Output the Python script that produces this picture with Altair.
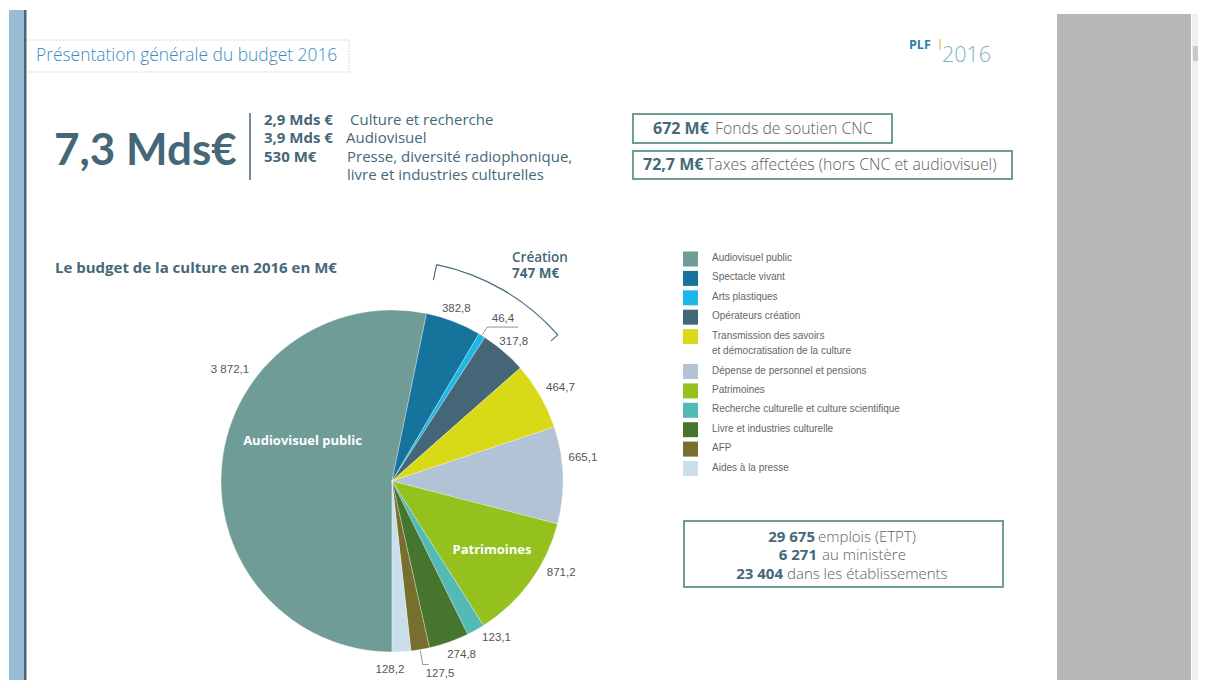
import math
import altair as alt
import pandas as pd

# ---------------- data ----------------
categories = [
    "Audiovisuel public",
    "Spectacle vivant",
    "Arts plastiques",
    "Opérateurs création",
    "Transmission des savoirs et démocratisation de la culture",
    "Dépense de personnel et pensions",
    "Patrimoines",
    "Recherche culturelle et culture scientifique",
    "Livre et industries culturelle",
    "AFP",
    "Aides à la presse",
]
values = [3872.1, 382.8, 46.4, 317.8, 464.7, 665.1, 871.2, 123.1, 274.8, 127.5, 128.2]
colors = ["#6f9c97", "#16739c", "#1db6ea", "#456677", "#d9da17", "#b1c3d5",
          "#95c11f", "#54bab6", "#46752e", "#776f2e", "#c9dfec"]
legend_labels = [
    "Audiovisuel public",
    "Spectacle vivant",
    "Arts plastiques",
    "Opérateurs création",
    "Transmission des savoirs\net démocratisation de la culture",
    "Dépense de personnel et pensions",
    "Patrimoines",
    "Recherche culturelle et culture scientifique",
    "Livre et industries culturelle",
    "AFP",
    "Aides à la presse",
]
creation_group = ["Spectacle vivant", "Arts plastiques", "Opérateurs création"]


def fr(v):
    return f"{v:,.1f}".replace(",", " ").replace(".", ",")


n = len(categories)
total = sum(values)
df = pd.DataFrame({"cat": categories, "val": values, "idx": list(range(n)),
                   "lab": [fr(v) for v in values]})

# ---------------- style ----------------
OFF = 8  # page margin
SANS = "'Open Sans', Lato, sans-serif"
BIG = "Lato, 'Open Sans', sans-serif"
NARROW = "'Liberation Sans', Arial, sans-serif"
DARK = "#456878"
GREY = "#555555"
LIGHT = "#5e5e5e"
CX, CY, R = 392 - OFF, 481 - OFF, 171

one = pd.DataFrame({"a": [0]})


def px(v):
    return v - OFF


def txt(s, x, y, size, color=DARK, weight="normal", font=SANS, align="left",
        baseline="middle"):
    return alt.Chart(one).mark_text(
        text=s, fontSize=size, color=color, fontWeight=weight, font=font,
        align=align, baseline=baseline
    ).encode(x=alt.value(px(x)), y=alt.value(px(y)))


def box(x1, y1, x2, y2, fill="transparent", stroke="transparent", sw=1.0, dash=None):
    kw = dict(fill=fill, stroke=stroke, strokeWidth=sw)
    if dash:
        kw["strokeDash"] = dash
    return alt.Chart(one).mark_rect(**kw).encode(
        x=alt.value(px(x1)), x2=alt.value(px(x2)),
        y=alt.value(px(y1)), y2=alt.value(px(y2)))


def rule(x1, y1, x2, y2, color="#777777", sw=0.8, shift=True):
    o = OFF if shift else 0
    return alt.Chart(one).mark_rule(color=color, strokeWidth=sw).encode(
        x=alt.value(x1 - o), x2=alt.value(x2 - o),
        y=alt.value(y1 - o), y2=alt.value(y2 - o))


# ---------------- pie ----------------
theta_enc = alt.Theta("val:Q", stack=True,
                      scale=alt.Scale(range=[math.pi, 3 * math.pi]))
color_enc = alt.Color("cat:N", scale=alt.Scale(domain=categories, range=colors),
                      legend=None)
order_enc = alt.Order("idx:Q")

pie = alt.Chart(df).mark_arc(radius=R, stroke="white", strokeWidth=0.3).encode(
    theta=theta_enc, color=color_enc, order=order_enc,
    x=alt.value(CX), y=alt.value(CY))


def slice_label(cat, r, dx=0, dy=0, text=None, size=11.5, color=GREY, font=NARROW,
                weight="normal"):
    enc = dict(theta=theta_enc, order=order_enc, x=alt.value(CX), y=alt.value(CY),
               opacity=alt.condition(f"datum.cat === '{cat}'", alt.value(1), alt.value(0)))
    enc["text"] = alt.value(text) if text is not None else alt.Text("lab:N")
    return alt.Chart(df).mark_text(
        radius=r, dx=dx, dy=dy, fontSize=size, color=color, font=font,
        fontWeight=weight, align="center", baseline="middle").encode(**enc)


labels = [
    slice_label("Audiovisuel public", 188, 25, -92),
    slice_label("Spectacle vivant", 184, -2, 0),
    slice_label("Arts plastiques", 171, 21, -17),
    slice_label("Opérateurs création", 185, 1, 1),
    slice_label("Transmission des savoirs et démocratisation de la culture", 192, 2, 3),
    slice_label("Dépense de personnel et pensions", 191, 0, -17),
    slice_label("Patrimoines", 192, 14, -21),
    slice_label("Recherche culturelle et culture scientifique", 189, 12, -8),
    slice_label("Livre et industries culturelle", 188, 7, -3),
    slice_label("AFP", 188, 17, 8),
    slice_label("Aides à la presse", 189, -12.5, 0),
    slice_label("Audiovisuel public", 100, 10, -30, text="Audiovisuel public",
                size=13, color="white", font=SANS, weight="bold"),
    slice_label("Patrimoines", 120, 3, -2, text="Patrimoines",
                size=13, color="white", font=SANS, weight="bold"),
]

# angles derived from the data (0 = top, clockwise, start at bottom)
cum = [0.0]
for v in values:
    cum.append(cum[-1] + v)


def ang(c):
    return math.pi + 2 * math.pi * c / total


def polar(a, r):
    return CX + r * math.sin(a), CY - r * math.cos(a)


i_first = categories.index(creation_group[0])
i_last = categories.index(creation_group[-1])
a0, a1 = ang(cum[i_first]), ang(cum[i_last + 1])

bracket = alt.Chart(one).mark_arc(theta=a0, theta2=a1, radius=221.6, innerRadius=220.4,
                                  color=DARK).encode(x=alt.value(CX), y=alt.value(CY))
p_a = polar(a0, 221)
p_b = polar(a0, 205)
p_c = polar(a1, 221)
p_d = polar(a1, 212)
bracket_ticks = [
    rule(p_a[0], p_a[1], p_b[0], p_b[1], color=DARK, sw=1.1, shift=False),
    rule(p_c[0], p_c[1], p_d[0], p_d[1], color=DARK, sw=1.1, shift=False),
]

# leader lines for small slices
i_arts = categories.index("Arts plastiques")
m_arts = ang((cum[i_arts] + cum[i_arts + 1]) / 2)
l0, l1 = polar(m_arts, 172), polar(m_arts, 181)
i_afp = categories.index("AFP")
m_afp = ang((cum[i_afp] + cum[i_afp + 1]) / 2)
k0, k1 = polar(m_afp, 172), polar(m_afp, 186)
leaders = [
    rule(l0[0], l0[1], l1[0], l1[1], shift=False),
    rule(l1[0], l1[1], l1[0] + 31, l1[1], shift=False),
    rule(k0[0], k0[1], k1[0], k1[1], shift=False),
    rule(k1[0], k1[1], k1[0] + 6, k1[1], shift=False),
]

# ---------------- legend ----------------
leg_y = []
for i in range(n):
    y = 259 + i * 19.4 + (15.5 if i > 4 else 0)
    leg_y.append(y - OFF)
leg_df = pd.DataFrame({"cat": categories, "lab": legend_labels, "ly": leg_y})
leg_sq = alt.Chart(leg_df).mark_square(size=225, opacity=1, filled=True).encode(
    x=alt.value(px(690.5)), y=alt.Y("ly:Q", scale=None), color=color_enc)
leg_txt = alt.Chart(leg_df).mark_text(
    align="left", baseline="top", dy=-6, fontSize=10, font=NARROW, color="#666666",
    lineBreak="\n", lineHeight=15.5
).encode(x=alt.value(px(712)), y=alt.Y("ly:Q", scale=None), text="lab:N")

# ---------------- page decoration ----------------
deco = [
    box(9, 10, 24, 700, fill="#99bdd7"),
    box(24, 10, 26.5, 700, fill="#4d6473"),
    box(1057, 14, 1191, 700, fill="#b7b7b7"),
    box(1192, 14, 1210, 700, fill="#efefef"),
    box(1193, 46, 1205, 61, fill="#c9c9c9"),
    box(26.5, 40, 349, 72, stroke="#b0b0b0", sw=1, dash=[1, 2]),
    box(633, 114, 892, 143, stroke="#6f9c97", sw=2),
    box(633, 151, 1012, 179, stroke="#6f9c97", sw=2),
    box(684, 521, 1003, 587, stroke="#6f9c97", sw=2),
    rule(250, 113, 250, 180, color=DARK, sw=1.5),
    rule(940, 39, 940, 50, color="#e6c04d", sw=1.2),
]

texts = [
    txt("Présentation générale du budget 2016", 36, 56, 17.4, color="#3a8bc2", weight=300),
    txt("PLF", 909, 45, 12.5, color="#2b7eb0", weight="bold"),
    txt("2016", 942, 62, 21.5, color="#82b2bb", weight=300, baseline="alphabetic"),
    txt("7,3 Mds€", 54, 165, 44, weight="bold", font=BIG, baseline="alphabetic"),
    txt("2,9 Mds €", 264, 120, 15, weight="bold"),
    txt("Culture et recherche", 350, 120, 15),
    txt("3,9 Mds €", 264, 138, 15, weight="bold"),
    txt("Audiovisuel", 346, 138, 15),
    txt("530 M€", 264, 157, 15, weight="bold"),
    txt("Presse, diversité radiophonique,", 347, 157, 15),
    txt("livre et industries culturelles", 347, 175, 15),
    txt("672 M€", 653, 129, 16, weight="bold"),
    txt("Fonds de soutien CNC", 715, 129, 15.8, color=LIGHT, weight=300),
    txt("72,7 M€", 643, 165, 16, weight="bold"),
    txt("Taxes affectées (hors CNC et audiovisuel)", 706, 165, 15.8, color=LIGHT, weight=300),
    txt("Le budget de la culture en 2016 en M€", 55, 268, 15, weight="bold"),
    txt("Création", 512, 258, 13.5, weight=600),
    txt("747 M€", 512, 274, 13.5, weight="bold"),
    txt("29 675", 815, 536.5, 15, weight="bold", align="right"),
    txt("emplois (ETPT)", 818, 536.5, 15, color=LIGHT, weight=300),
    txt("6 271", 817, 555, 15, weight="bold", align="right"),
    txt("au ministère", 822, 555, 15, color=LIGHT, weight=300),
    txt("23 404", 783, 573.5, 15, weight="bold", align="right"),
    txt("dans les établissements", 787, 573.5, 15, color=LIGHT, weight=300),
]

chart = alt.layer(
    *deco, pie, bracket, *bracket_ticks, *leaders, *labels, leg_sq, leg_txt, *texts
).properties(
    width=1190, height=672, autosize="none", padding=0, background="white"
).configure_view(strokeWidth=0)

chart.save("out.html", embed_options={"renderer": "svg", "actions": False})
